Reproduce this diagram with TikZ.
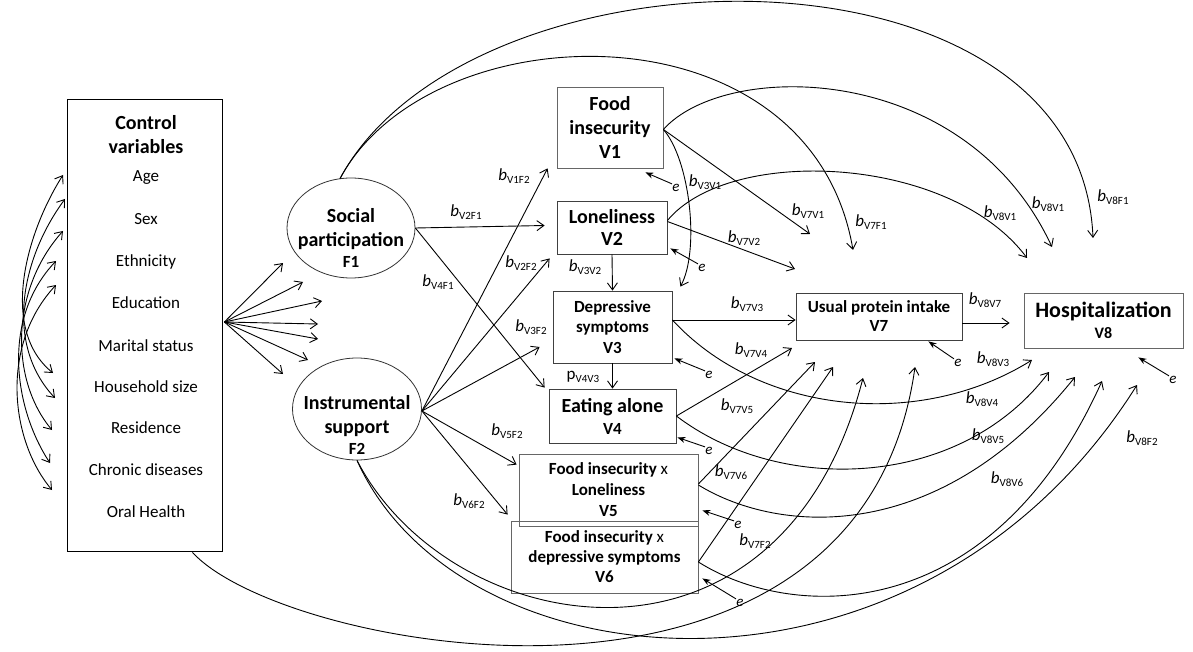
\documentclass[tikz,border=0pt]{standalone}
\usepackage{fontspec}
\setmainfont{Carlito}
\usetikzlibrary{arrows.meta,shapes.geometric,calc}
\newcommand{\bl}[1]{{\fontsize{17}{18}\selectfont\itshape b}\raisebox{-0.3em}{\fontsize{11}{12}\selectfont #1}}
\newcommand{\pl}[1]{{\fontsize{17}{18}\selectfont p}\raisebox{-0.3em}{\fontsize{11}{12}\selectfont #1}}
\begin{document}
\begin{tikzpicture}[x=1pt,y=-1pt,line width=0.9pt,
 arr/.style={-{Straight Barb[length=7pt,width=10pt]}},
 dbl/.style={{Straight Barb[length=7pt,width=10pt]}-{Straight Barb[length=7pt,width=10pt]}},
 earr/.style={-{Stealth[length=8pt,width=6pt]}},
 bx/.style={draw=black!75,line width=0.8pt,inner sep=0pt,align=center,font=\bfseries\fontsize{17}{20.5}\selectfont},
 lbl/.style={inner sep=0pt},
 el/.style={ellipse,draw=black!80,line width=0.8pt,inner sep=0pt},
 ev/.style={inner sep=0pt,font=\itshape\fontsize{15}{15}\selectfont},
 cv/.style={inner sep=0pt,font=\fontsize{17}{17}\selectfont},
 tx/.style={inner sep=0pt,align=center,font=\bfseries\fontsize{20}{24}\selectfont}]
\useasboundingbox (0,0) rectangle (1193,652);

% ---------- control variables ----------
\node[draw=black,line width=0.8pt,minimum width=155pt,minimum height=452pt,inner sep=0pt] (ctrl) at (144.5,325) {};
\node[tx] (cvh) at (146,135) {Control\\variables};
\node[cv] (cv1) at (146,178) {Age};
\node[cv] (cv2) at (146,219) {Sex};
\node[cv] (cv3) at (146,262) {Ethnicity};
\node[cv] (cv4) at (146,303) {Education};
\node[cv] (cv5) at (146,346) {Marital status};
\node[cv] (cv6) at (146,387) {Household size};
\node[cv] (cv7) at (146,428) {Residence};
\node[cv] (cv8) at (146,470) {Chronic diseases};
\node[cv] (cv9) at (146,512) {Oral Health};

% ---------- latent factors ----------
\node[el,minimum width=128pt,minimum height=100pt] (F1) at (351,228) {};
\node[tx] (F1t) at (351,238) {Social\\participation\\[-3pt]{\fontsize{17}{17}\selectfont F1}};
\node[el,minimum width=129pt,minimum height=102pt] (F2) at (357,409) {};
\node[tx] (F2t) at (357,425) {Instrumental\\support\\[-3pt]{\fontsize{17}{17}\selectfont F2}};

% ---------- observed variables ----------
\node[bx,draw=black!60,minimum width=106pt,minimum height=81pt,font=\bfseries\fontsize{20}{24}\selectfont] (V1) at (610,127.5) {Food\\insecurity\\V1};
\node[bx,minimum width=110pt,minimum height=53pt,font=\bfseries\fontsize{20}{22}\selectfont] (V2) at (612,227.5) {Loneliness\\V2};
\node[bx,minimum width=119pt,minimum height=72pt] (V3) at (612.5,327) {Depressive\\symptoms\\V3};
\node[bx,minimum width=127pt,minimum height=54pt,font=\bfseries\fontsize{17}{22}\selectfont] (V4) at (612.5,416) {{\fontsize{20}{20}\selectfont Eating alone}\\V4};
\node[bx,draw=black!60,minimum width=179pt,minimum height=72pt,font=\bfseries\fontsize{17}{21}\selectfont] (V5) at (608.5,490) {Food insecurity \textmd{x}\\Loneliness\\V5};
\node[bx,draw=black!60,minimum width=187pt,minimum height=72pt,font=\bfseries\fontsize{17}{20}\selectfont] (V6) at (604.5,557) {Food insecurity \textmd{x}\\depressive symptoms\\V6};
\node[bx,minimum width=166pt,minimum height=47pt,font=\bfseries\fontsize{17}{19}\selectfont] (V7) at (879,316.5) {Usual protein intake\\V7};
\node[bx,draw=black!60,minimum width=159pt,minimum height=55pt,font=\bfseries\fontsize{16}{21}\selectfont] (V8) at (1103.5,320.5) {{\fontsize{22}{22}\selectfont Hospitalization}\\V8};

% ---------- free arrow ends ----------
\coordinate (t71) at (810,234);
\coordinate (t72) at (795,269);
\coordinate (t74) at (792,348);
\coordinate (t75) at (815,362);
\coordinate (t76) at (833,367);
\coordinate (t7F2) at (863,378);
\coordinate (t7C) at (915,367);
\coordinate (t7F1) at (853,250);
\coordinate (t8F1) at (1093,238);
\coordinate (t81) at (1052,247);
\coordinate (t82) at (1027,258);
\coordinate (t83) at (1032,360);
\coordinate (t84) at (1049,372);
\coordinate (t85) at (1075,377);
\coordinate (t86) at (1102,381);
\coordinate (t8F2) at (1137,385);
\coordinate (f1) at (283,263);
\coordinate (f2) at (303,282);
\coordinate (f3) at (322,301);
\coordinate (f4) at (318,324);
\coordinate (f5) at (318,339);
\coordinate (f6) at (308,360);
\coordinate (f7) at (283,374);
\coordinate (a1) at (63,175);  \coordinate (b1) at (53,373);
\coordinate (a2) at (65,199);  \coordinate (b2) at (55,398);
\coordinate (a3) at (63,231);  \coordinate (b3) at (52,430);
\coordinate (a4) at (56,261);  \coordinate (b4) at (50,463);
\coordinate (a5) at (56,285);  \coordinate (b5) at (52,490);

% ---------- covariances among controls ----------
\draw[dbl] (a1) .. controls (25,235) and (0,330) .. (b1);
\draw[dbl] (a2) .. controls (20,260) and (5,345) .. (b2);
\draw[dbl] (a3) .. controls (10,290) and (10,380) .. (b3);
\draw[dbl] (a4) .. controls (0,320) and (15,410) .. (b4);
\draw[dbl] (a5) .. controls (0,345) and (10,440) .. (b5);

% ---------- fan from controls ----------
\foreach \k in {f1,f2,f3,f4,f5,f6,f7}
  \draw[arr] ($(ctrl.east)+(2,-3)$) -- (\k);

% ---------- factor paths ----------
\draw[arr] (F1.east) -- ($(V2.west)+(-12,-2)$);
\draw[arr] (F1.east) -- ($(V4.north west)+(-4,-1)$);
\draw[arr] ($(F2.east)+(0,2)$) -- ($(V1.south west)+(-9,0)$);
\draw[arr] ($(F2.east)+(0,2)$) -- ($(V2.south west)+(-7,4)$);
\draw[arr] ($(F2.east)+(0,2)$) -- ($(V3.west)+(-13,20)$);
\draw[arr] ($(F2.east)+(0,2)$) -- ($(V5.north west)+(-2,11)$);
\draw[arr] ($(F2.east)+(0,2)$) -- ($(V6.north west)+(-3,-6)$);

% ---------- paths between observed ----------
\draw[arr] (V2.south) -- (V3.north);
\draw[arr] (V3.south) -- (V4.north);
\draw[arr] ($(V1.east)+(0,2)$) .. controls (690,160) and (700,250) .. ($(V3.north east)+(8,-4)$);
\draw[arr] ($(V1.east)+(0,2)$) -- (t71);
\draw[arr] ($(V2.east)+(0,-6)$) -- (t72);
\draw[arr] ($(V3.east)+(0,-7)$) -- ($(V7.west)+(0,3.5)$);
\draw[arr] (V4.east) -- (t74);
\draw[arr] ($(V5.east)+(0,-6)$) -- (t75);
\draw[arr] ($(V6.east)+(0,5)$) -- (t76);
\draw[arr] ($(V7.east)+(0,6.5)$) -- ($(V8.west)+(-14,2.5)$);

% ---------- long arcs ----------
\draw[arr] ($(F1.north)+(-11,1)$) .. controls (470,-62) and (1080,-72) .. (t8F1);
\draw[arr] ($(F1.north)+(-11,1)$) .. controls (430,10) and (810,0) .. (t7F1);
\draw[arr] ($(V1.east)+(0,2)$) .. controls (725,60) and (965,60) .. (t81);
\draw[arr] ($(V2.east)+(0,-7)$) .. controls (730,145) and (950,155) .. (t82);
\draw[arr] ($(V3.east)+(0,-7)$) .. controls (760,415) and (920,430) .. (t83);
\draw[arr] (V4.east) .. controls (780,495) and (960,490) .. (t84);
\draw[arr] ($(V5.east)+(0,-5)$) .. controls (780,535) and (940,545) .. (t85);
\draw[arr] ($(V6.east)+(0,5)$) .. controls (790,620) and (990,630) .. (t86);
\draw[arr] (F2.south) .. controls (450,640) and (780,700) .. (t7F2);
\draw[arr] (F2.south) .. controls (460,690) and (920,730) .. (t8F2);
\draw[arr] ($(ctrl.south)+(48,1)$) .. controls (283,652) and (860,760) .. (t7C);

% ---------- error terms ----------
\node[ev] (e1) at (676,188) {e};
\node[ev] (e2) at (702,268) {e};
\node[ev] (e3) at (709,375) {e};
\node[ev] (e4) at (709,451) {e};
\node[ev] (e5) at (738,525) {e};
\node[ev] (e6) at (740,603) {e};
\node[ev] (e7) at (958,363) {e};
\node[ev] (e8) at (1173,380) {e};
\draw[earr] (e1.north west) -- ($(V1.south east)+(-18,4)$);
\draw[earr] (e2.north west) -- ($(V2.south east)+(3,-6)$);
\draw[earr] (e3.north west) -- ($(V3.south east)+(2,-5)$);
\draw[earr] (e4.north west) -- ($(V4.south east)+(1,-6)$);
\draw[earr] (e5.north west) -- ($(V5.south east)+(4,-16)$);
\draw[earr] (e6.north west) -- ($(V6.south east)+(4,-15)$);
\draw[earr] (e7.north west) -- ($(V7.south east)+(-34,1)$);
\draw[earr] (e8.north west) -- ($(V8.south east)+(-45,9)$);

% ---------- coefficient labels ----------
\node[lbl] (lV2F1) at (466,212) {\bl{V2F1}};
\node[lbl] (lV4F1) at (438,282) {\bl{V4F1}};
\node[lbl] (lV1F2) at (514,176) {\bl{V1F2}};
\node[lbl] (lV2F2) at (521,263) {\bl{V2F2}};
\node[lbl] (lV3F2) at (531,327) {\bl{V3F2}};
\node[lbl] (lV5F2) at (507,431) {\bl{V5F2}};
\node[lbl] (lV6F2) at (469,501) {\bl{V6F2}};
\node[lbl] (lV3V2) at (585,267) {\bl{V3V2}};
\node[lbl] (lV4V3) at (583,377) {\pl{V4V3}};
\node[lbl] (lV3V1) at (705,182) {\bl{V3V1}};
\node[lbl] (lV7V1) at (808,211) {\bl{V7V1}};
\node[lbl] (lV7V2) at (744,238) {\bl{V7V2}};
\node[lbl] (lV7F1) at (871,222) {\bl{V7F1}};
\node[lbl] (lV8V1a) at (1000,213) {\bl{V8V1}};
\node[lbl] (lV8V1b) at (1048,204) {\bl{V8V1}};
\node[lbl] (lV8F1) at (1113,197) {\bl{V8F1}};
\node[lbl] (lV7V3) at (747,304) {\bl{V7V3}};
\node[lbl] (lV7V4) at (751,350) {\bl{V7V4}};
\node[lbl] (lV7V5) at (737,406) {\bl{V7V5}};
\node[lbl] (lV7V6) at (731,472) {\bl{V7V6}};
\node[lbl] (lV7F2) at (755,541) {\bl{V7F2}};
\node[lbl] (lV8V7) at (985,300) {\bl{V8V7}};
\node[lbl] (lV8V3) at (993,359) {\bl{V8V3}};
\node[lbl] (lV8V4) at (982,399) {\bl{V8V4}};
\node[lbl] (lV8V5) at (988,436) {\bl{V8V5}};
\node[lbl] (lV8V6) at (1007,479) {\bl{V8V6}};
\node[lbl] (lV8F2) at (1142,438) {\bl{V8F2}};
\end{tikzpicture}
\end{document}
